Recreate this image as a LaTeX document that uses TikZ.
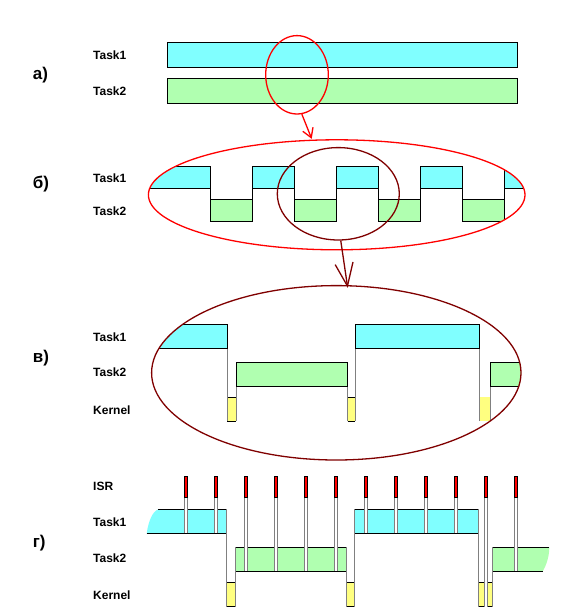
\documentclass[tikz,border=0pt]{standalone}
\usepackage{fontspec}
\setmainfont{Liberation Sans}
\usetikzlibrary{shapes.geometric,arrows.meta}
\definecolor{tcyan}{HTML}{80FFFF}
\definecolor{tgreen}{HTML}{B0FFB0}
\definecolor{tyellow}{HTML}{FFFF80}
\definecolor{tgrey}{HTML}{808080}
\definecolor{dred}{HTML}{800000}
\definecolor{tred}{HTML}{FF0000}
\tikzset{
  lbl/.style={anchor=west, font=\bfseries\fontsize{12}{14}\selectfont, inner sep=0pt},
  sec/.style={anchor=west, font=\bfseries\fontsize{17}{20}\selectfont, inner sep=0pt},
  t1/.style={fill=tcyan, draw=black, line width=0.9pt},
  t2/.style={fill=tgreen, draw=black, line width=0.9pt},
  edgeline/.style={draw=black, line width=0.9pt},
  greyline/.style={draw=tgrey, line width=0.9pt},
  stemline/.style={draw=tgrey, line width=0.7pt},
  isrbar/.style={fill=tred, draw=black, line width=0.6pt},
  ringA/.style={ellipse, draw=tred, line width=1.3pt, inner sep=0pt},
  ringB/.style={ellipse, draw=dred, line width=1.3pt, inner sep=0pt},
}
\begin{document}
\begin{tikzpicture}[x=1pt,y=-1pt]
\useasboundingbox[fill=white] (0,0) rectangle (573,613);

% ---------------- a)
\node[sec] (la) at (32.7,75) {а)};
\node[lbl] (la1) at (93,55) {Task1};
\node[lbl] (la2) at (93,91.7) {Task2};
\draw[t1] (167.3,42.3) rectangle (517.5,67.3);
\draw[t2] (167.3,78.3) rectangle (517.5,103.3);
\node[ringA, minimum width=62.6pt, minimum height=78.4pt] (ellA) at (297,74.8) {};

% ---------------- b)
\node[sec] (lb) at (32.7,184) {б)};
\node[lbl] (lb1) at (93,178.3) {Task1};
\node[lbl] (lb2) at (93,211.7) {Task2};
\begin{scope}
  \clip (336.7,194.8) ellipse [x radius=188.3pt, y radius=55pt];
  \foreach \a/\b in {130/210.3, 252.3/294.3, 336.3/378.3, 420.3/462.3, 504.3/545}
    \draw[t1] (\a,166.3) rectangle (\b,188.3);
  \foreach \a/\b in {210.3/252.3, 294.3/336.3, 378.3/420.3, 462.3/504.3}
    \draw[t2] (\a,199.3) rectangle (\b,221.3);
  \foreach \x in {210.3,252.3,294.3,336.3,378.3,420.3,462.3,504.3}
    \draw[edgeline] (\x,166.3) -- (\x,221.3);
\end{scope}
\node[ringA, minimum width=376.6pt, minimum height=110pt] (ellB) at (336.7,194.8) {};
\node[ringB, minimum width=122pt, minimum height=92.4pt] (circB) at (338.3,193.8) {};
\coordinate (tipB) at (311.7,138.8);
\draw[tred, line width=1.3pt, -{Straight Barb[length=9pt,width=11pt]}] (ellA.-83.4) -- (tipB);

% ---------------- v)
\node[sec] (lc) at (32.7,358.3) {в)};
\node[lbl] (lc1) at (93,337.3) {Task1};
\node[lbl] (lc2) at (93,372.7) {Task2};
\node[lbl] (lc3) at (93,410) {Kernel};
\begin{scope}
  \clip (336.3,372.8) ellipse [x radius=184.7pt, y radius=87.2pt];
  \fill[tyellow] (227.3,397.3) rectangle (236.3,421.3);
  \fill[tyellow] (347.7,397.3) rectangle (355.3,421.3);
  \fill[tyellow] (479.3,397.3) rectangle (490.3,421.3);
  \foreach \a/\b in {227.3/236.3, 347.7/355.3} {
    \draw[edgeline] (\a,397.3) -- (\b,397.3);
    \draw[edgeline] (\a,421.3) -- (\b,421.3);
  }
  \foreach \x/\y in {227.3/348.3, 236.3/386.3, 347.7/386.3, 355.3/348.3, 479.3/348.3, 490.3/386.3}
    \draw[greyline] (\x,\y) -- (\x,421.3);
  \draw[t1] (130,324.3) rectangle (227.3,348.3);
  \draw[t1] (355.3,324.3) rectangle (479.3,348.3);
  \draw[t2] (236.3,362.3) rectangle (347.7,386.3);
  \draw[t2] (490.3,362.3) rectangle (545,386.3);
\end{scope}
\node[ringB, minimum width=369.4pt, minimum height=174.4pt] (ellC) at (336.3,372.8) {};
\coordinate (tipC) at (347.7,287.8);
\draw[dred, line width=1.3pt, -{Straight Barb[length=23pt,width=18pt]}] (circB.-87.9) -- (tipC);

% ---------------- g)
\node[sec] (ld) at (32.7,543.3) {г)};
\node[lbl] (ld0) at (93,486.7) {ISR};
\node[lbl] (ld1) at (93,522.3) {Task1};
\node[lbl] (ld2) at (93,558.3) {Task2};
\node[lbl] (ld3) at (93,595.7) {Kernel};
% kernel boxes
\foreach \a/\b in {226.3/235.7, 346/354.3, 478/484.7, 487.3/492.3} {
  \fill[tyellow] (\a,582.3) rectangle (\b,606.7);
  \draw[edgeline] (\a,582.3) -- (\b,582.3);
  \draw[edgeline] (\a,606.7) -- (\b,606.7);
}
% task bars
\fill[tcyan] (146.7,533.3) .. controls (148.5,521) and (152.5,511.5) .. (158.3,509.3) -- (226.3,509.3) -- (226.3,533.3) -- cycle;
\draw[edgeline] (158.3,509.3) -- (226.3,509.3);
\draw[edgeline] (146.7,533.3) -- (226.3,533.3);
\fill[tgreen] (235.7,547.3) rectangle (346,571.3);
\draw[edgeline] (235.7,547.3) -- (346,547.3);
\draw[edgeline] (235.7,571.3) -- (346,571.3);
\fill[tcyan] (354.3,509.3) rectangle (478,533.3);
\draw[edgeline] (354.3,509.3) -- (478,509.3);
\draw[edgeline] (354.3,533.3) -- (478,533.3);
\fill[tgreen] (492.3,547.3) -- (549.3,547.3) .. controls (549.3,556) and (546.5,565) .. (542.7,571.3) -- (492.3,571.3) -- cycle;
\draw[edgeline] (492.3,547.3) -- (549.3,547.3);
\draw[edgeline] (492.3,571.3) -- (542.7,571.3);
% grey switch lines
\foreach \x/\y in {226.3/509.3, 235.7/547.3, 346/547.3, 354.3/509.3, 478/509.3, 492.3/547.3}
  \draw[greyline] (\x,\y) -- (\x,606.7);
% ISR stems and bars
\foreach \x/\b in {186/533.3, 216/533.3, 246/571.3, 276/571.3, 306/571.3, 336/571.3,
                   366/533.3, 396/533.3, 426/533.3, 456/533.3, 486/606.7, 516/571.3} {
  \fill[white] (\x-1.3,497.3) rectangle (\x+1.3,\b);
  \draw[stemline] (\x-1.3,497.3) -- (\x-1.3,\b);
  \draw[stemline] (\x+1.3,497.3) -- (\x+1.3,\b);
  \draw[isrbar] (\x-1.7,476) rectangle (\x+1.7,497.3);
}
\end{tikzpicture}
\end{document}
